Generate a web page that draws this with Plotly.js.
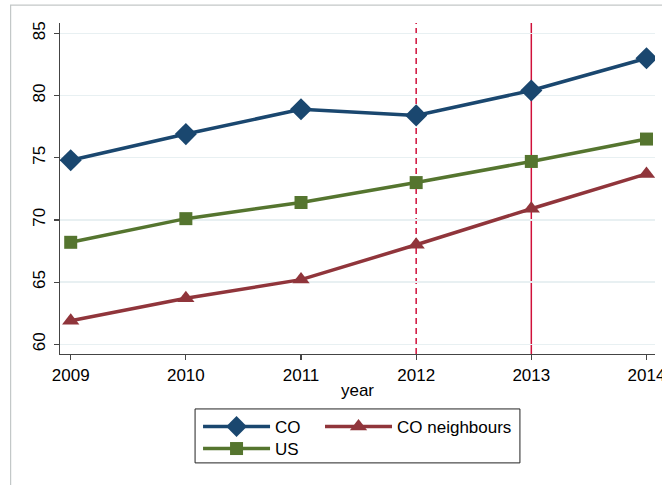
<!DOCTYPE html>
<html>
<head>
<meta charset="utf-8">
<script src="https://cdn.plot.ly/plotly-3.0.1.min.js"></script>
<style>html,body{margin:0;padding:0;background:#fff;}#chart{width:662px;height:485px;}</style>
</head>
<body>
<div id="chart"></div>
<script>
var years = [2009, 2010, 2011, 2012, 2013, 2014];
var coValues = [74.8, 76.9, 78.9, 78.4, 80.4, 83.0];
var neighbourValues = [61.9, 63.7, 65.2, 68.0, 70.9, 73.7];
var usValues = [68.2, 70.1, 71.4, 73.0, 74.7, 76.5];
var seriesNames = ['CO', 'CO neighbours', 'US'];
var yTicks = [60, 65, 70, 75, 80, 85];
var dashedYear = 2012;
var solidYear = 2013;

var font = 'Liberation Sans, Arial, sans-serif';
var legendFont = {size: 17, family: font, color: '#000'};

var traces = [
  {x: years, y: coValues, name: seriesNames[0], type: 'scatter', mode: 'lines+markers',
   line: {color: '#1a476f', width: 3.5}, marker: {symbol: 'diamond', size: 17, color: '#1a476f'}, legend: 'legend'},
  {x: years, y: neighbourValues, name: seriesNames[1], type: 'scatter', mode: 'lines+markers',
   line: {color: '#90353b', width: 3.5}, marker: {symbol: 'triangle-up', size: 15, color: '#90353b'}, legend: 'legend3'},
  {x: years, y: usValues, name: seriesNames[2], type: 'scatter', mode: 'lines+markers',
   line: {color: '#55752f', width: 3.5}, marker: {symbol: 'square', size: 13, color: '#55752f'}, legend: 'legend2'}
];

function legendAt(xPaper, yPaper) {
  return {
    orientation: 'h', x: xPaper, xanchor: 'left', y: yPaper, yanchor: 'top',
    bgcolor: 'rgba(0,0,0,0)', borderwidth: 0, itemwidth: 67, font: legendFont
  };
}

var layout = {
  width: 662, height: 485,
  margin: {l: 60, r: 7, t: 23, b: 131},
  paper_bgcolor: '#ffffff', plot_bgcolor: '#ffffff',
  font: {family: font, color: '#000', size: 17},
  showlegend: true,
  xaxis: {
    range: [2008.907, 2014.074], tickvals: years, ticktext: years.map(String),
    showgrid: false, zeroline: false, showline: true, linecolor: '#444', linewidth: 1.2,
    ticks: 'outside', ticklen: 5, tickcolor: '#444', tickwidth: 1.2, ticklabeloverflow: 'allow',
    tickfont: {size: 17, family: font, color: '#000'},
    title: {text: 'year', font: {size: 17, family: font, color: '#000'}, standoff: 0}
  },
  yaxis: {
    range: [59.22, 85.83], tickvals: yTicks, ticktext: yTicks.map(String), tickangle: -90,
    showgrid: true, gridcolor: '#e8f0f2', gridwidth: 1.5, zeroline: false,
    showline: true, linecolor: '#444', linewidth: 1.2, ticklabelstandoff: 2,
    ticks: 'outside', ticklen: 5, tickcolor: '#444', tickwidth: 1.2,
    tickfont: {size: 17, family: font, color: '#000'}
  },
  legend: legendAt(0.232, -0.166),
  legend2: legendAt(0.232, -0.2326),
  legend3: legendAt(0.437, -0.166),
  shapes: [
    {type: 'line', xref: 'x', yref: 'paper', x0: dashedYear, x1: dashedYear, y0: 0, y1: 1,
     line: {color: '#d0103a', width: 1.5, dash: '6px,4px'}, layer: 'below'},
    {type: 'line', xref: 'x', yref: 'paper', x0: solidYear, x1: solidYear, y0: 0, y1: 1,
     line: {color: '#d0103a', width: 1.5}, layer: 'below'},
    {type: 'rect', xref: 'paper', yref: 'paper', x0: 0.227, x1: 0.773, y0: -0.329, y1: -0.166,
     line: {color: '#222', width: 1}, fillcolor: 'rgba(0,0,0,0)'},
    {type: 'rect', xref: 'paper', yref: 'paper', x0: -0.083, x1: 1.2, y0: -0.6, y1: 1.054,
     line: {color: '#c3c8c8', width: 1.2}, fillcolor: 'rgba(0,0,0,0)'}
  ]
};

Plotly.newPlot('chart', traces, layout, {displayModeBar: false, staticPlot: true});
</script>
</body>
</html>
